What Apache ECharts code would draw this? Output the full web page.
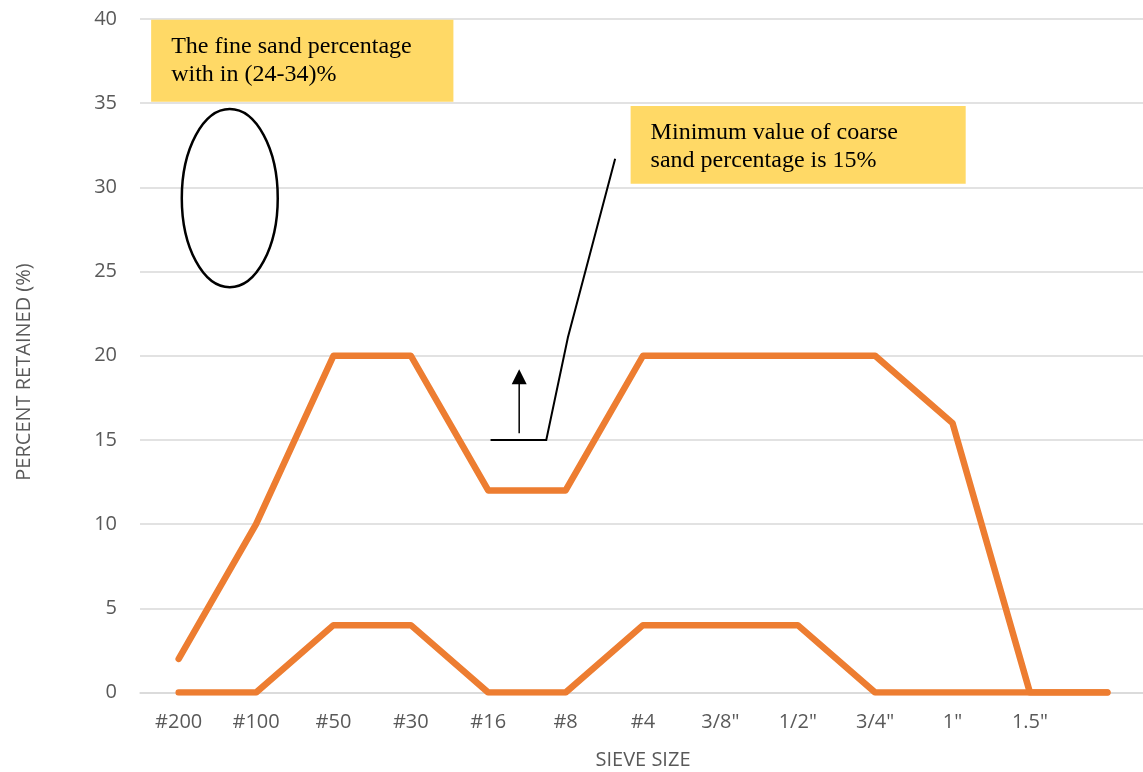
<!DOCTYPE html>
<html>
<head>
<meta charset="utf-8">
<title>Sieve size – percent retained</title>
<script src="https://cdn.jsdelivr.net/npm/echarts@6/dist/echarts.min.js"></script>
<style>
  html, body { margin: 0; padding: 0; background: #ffffff; }
  #chart { width: 1143px; height: 772px; }
</style>
</head>
<body>
<div id="chart"></div>
<script>
// Sieve sizes along the x axis (last slot is the pan, unlabelled)
const categories = ['#200', '#100', '#50', '#30', '#16', '#8', '#4', '3/8"', '1/2"', '3/4"', '1"', '1.5"', ''];
// Upper limit of percent retained on each sieve
const upperLimit = [2, 10, 20, 20, 12, 12, 20, 20, 20, 20, 16, 0, 0];
// Lower limit of percent retained on each sieve
const lowerLimit = [0, 0, 4, 4, 0, 0, 4, 4, 4, 0, 0, 0, 0];
// Value axis range
const yMin = 0;
const yMax = 40;
const yStep = 5;

// Notes: positions in (category index, percent) units
const fineRange = [24.07, 34.65];   // ellipse span, percent
const coarseMinimum = 15;           // percent

const TEXT_GREY = '#595959';
const ORANGE = '#ED7D31';
const NOTE_FILL = '#FFD966';
const SANS = '"Open Sans", "Liberation Sans", sans-serif';
const SERIF = '"Liberation Serif", "Times New Roman", serif';

const chart = echarts.init(document.getElementById('chart'), null, { renderer: 'canvas' });

const option = {
  animation: false,
  backgroundColor: '#ffffff',
  grid: {
    left: 140, top: 19, width: 1006, height: 673.5,
    containLabel: false,
    outerBoundsMode: 'none'
  },
  xAxis: {
    type: 'category',
    data: categories,
    boundaryGap: true,
    name: 'SIEVE SIZE',
    nameLocation: 'middle',
    nameGap: 58,
    nameTextStyle: { color: TEXT_GREY, fontSize: 20, fontFamily: SANS },
    axisLine: { show: true, lineStyle: { color: '#D9D9D9', width: 1.5 } },
    axisTick: { show: false },
    axisLabel: { color: TEXT_GREY, fontSize: 20, fontFamily: SANS, margin: 20, interval: 0 },
    splitLine: { show: false }
  },
  yAxis: {
    type: 'value',
    min: yMin,
    max: yMax,
    interval: yStep,
    axisLine: { show: false },
    axisTick: { show: false },
    axisLabel: { color: TEXT_GREY, fontSize: 20, fontFamily: SANS, margin: 23 },
    splitLine: { show: true, lineStyle: { color: '#D9D9D9', width: 1.5 } }
  },
  series: [
    {
      name: 'Upper limit',
      type: 'line',
      data: upperLimit,
      symbol: 'none',
      lineStyle: { color: ORANGE, width: 6.5, cap: 'round', join: 'round' },
      z: 3
    },
    {
      name: 'Lower limit',
      type: 'line',
      data: lowerLimit,
      symbol: 'none',
      lineStyle: { color: ORANGE, width: 6.5, cap: 'round', join: 'round' },
      z: 3
    }
  ]
};

chart.setOption(option);

// Map (fractional category index, percent) to pixels through the axes
function toPx(c, v) {
  const a = chart.convertToPixel({ gridIndex: 0 }, [0, v]);
  const b = chart.convertToPixel({ gridIndex: 0 }, [1, v]);
  return [a[0] + (b[0] - a[0]) * c, a[1]];
}

function noteBox(c0, v0, c1, v1, text) {
  const p0 = toPx(c0, v0);
  const p1 = toPx(c1, v1);
  return [
    {
      type: 'rect',
      shape: { x: p0[0], y: p0[1], width: p1[0] - p0[0], height: p1[1] - p0[1] },
      style: { fill: NOTE_FILL },
      z: 10
    },
    {
      type: 'text',
      x: p0[0] + 20,
      y: p0[1] + 13,
      style: {
        text: text,
        font: '24px ' + SERIF,
        lineHeight: 28,
        fill: '#000000',
        align: 'left',
        verticalAlign: 'top'
      },
      z: 11
    }
  ];
}

function drawNotes() {
  const elements = [];

  // y axis title
  elements.push({
    type: 'text',
    x: 24,
    y: 372,
    rotation: Math.PI / 2,
    style: {
      text: 'PERCENT RETAINED (%)',
      font: '20px ' + SANS,
      fill: TEXT_GREY,
      align: 'center',
      verticalAlign: 'middle'
    },
    z: 5
  });

  // fine sand note and its ellipse
  elements.push(...noteBox(-0.356, 39.95, 3.55, 35.08,
    'The fine sand percentage\nwith in (24-34)%'));
  const eTop = toPx(0.66, fineRange[1]);
  const eBot = toPx(0.66, fineRange[0]);
  const eSide = toPx(0.66 + 0.62, 0);
  elements.push({
    type: 'ellipse',
    shape: {
      cx: eTop[0],
      cy: (eTop[1] + eBot[1]) / 2,
      rx: eSide[0] - eTop[0],
      ry: (eBot[1] - eTop[1]) / 2
    },
    style: { fill: 'none', stroke: '#000000', lineWidth: 2.5 },
    z: 10
  });

  // coarse sand note with its leader line
  elements.push(...noteBox(5.84, 34.83, 10.17, 30.21,
    'Minimum value of coarse\nsand percentage is 15%'));
  elements.push({
    type: 'polyline',
    shape: {
      points: [
        toPx(4.03, coarseMinimum),
        toPx(4.75, coarseMinimum),
        toPx(5.03, 21.1),
        toPx(5.64, 31.7)
      ]
    },
    style: { fill: 'none', stroke: '#000000', lineWidth: 2 },
    z: 10
  });

  // upward arrow: coarse sand must be at least the minimum
  const aBase = toPx(4.40, 15.4);
  const aTip = toPx(4.40, 19.2);
  elements.push({
    type: 'line',
    shape: { x1: aBase[0], y1: aBase[1], x2: aTip[0], y2: aTip[1] + 12 },
    style: { stroke: '#000000', lineWidth: 1.5 },
    z: 10
  });
  elements.push({
    type: 'polygon',
    shape: {
      points: [
        [aTip[0], aTip[1]],
        [aTip[0] - 7.5, aTip[1] + 15],
        [aTip[0] + 7.5, aTip[1] + 15]
      ]
    },
    style: { fill: '#000000' },
    z: 10
  });

  chart.setOption({ graphic: { elements: elements } });
}

drawNotes();
</script>
</body>
</html>
